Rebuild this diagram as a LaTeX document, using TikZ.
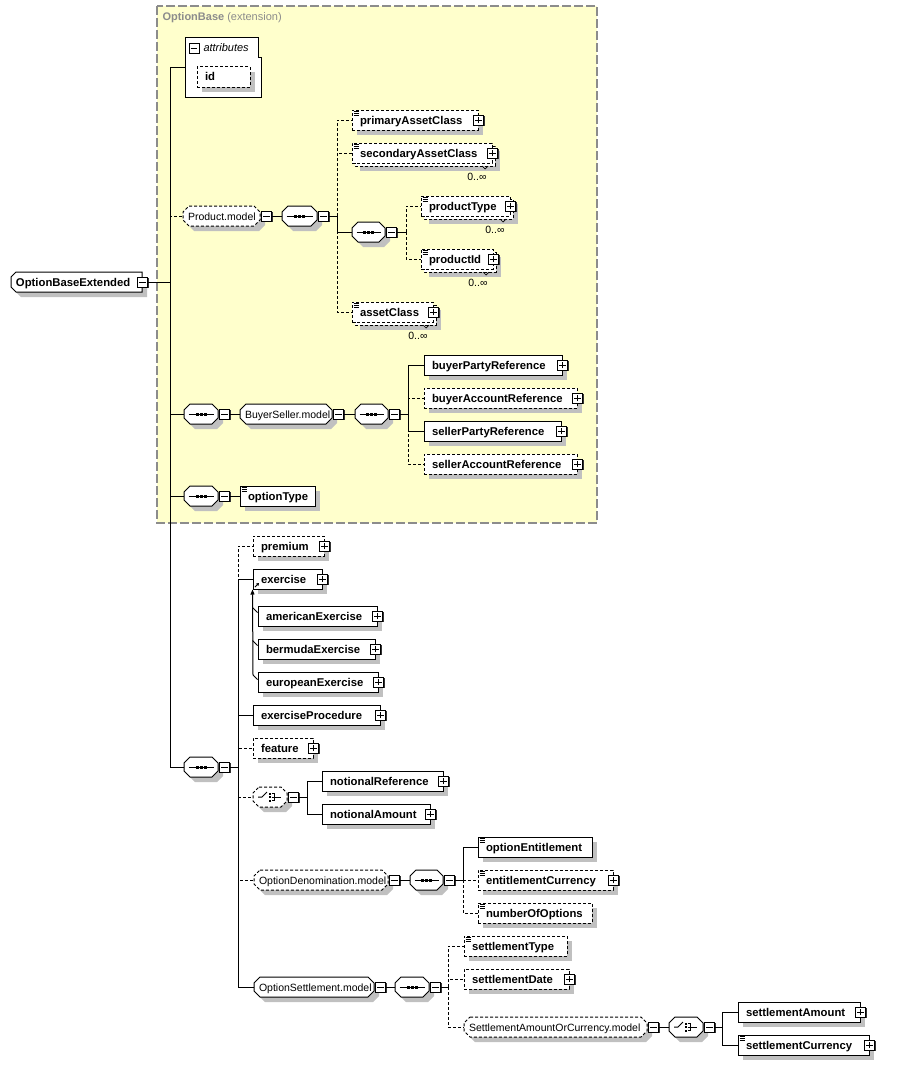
\documentclass[tikz,border=0pt]{standalone}
\usepackage{fontspec}
\setmainfont{Liberation Sans}
\usetikzlibrary{shadows,arrows.meta,calc}
\definecolor{bgy}{HTML}{FFFFCC}
\definecolor{shg}{HTML}{C0C0C0}
\definecolor{frg}{HTML}{8C8C8C}
\newcommand\elfont{\bfseries\fontsize{11.3}{13}\selectfont}
\newcommand\grfont{\fontsize{10.5}{12}\selectfont}
\tikzset{
  opt/.style={dash pattern=on 3pt off 2pt},
  elem/.style={draw, fill=white, inner xsep=8pt, inner ysep=0pt, minimum height=20pt, text height=10.5pt, text depth=2.5pt, font=\elfont},
  sh/.style={general shadow={fill=shg, shadow xshift=5pt, shadow yshift=-5pt}},
  grshape/.style={draw, fill=white, general shadow={fill=shg, shadow xshift=5pt, shadow yshift=-5pt}},
  grnode/.style={inner xsep=5pt, inner ysep=0pt, minimum height=20pt, text height=10.5pt, text depth=2.5pt, font=\grfont},
  pmbox/.style={draw, fill=white, minimum size=10pt, inner sep=0pt, line width=0.9pt, general shadow={fill=black!80, shadow xshift=1pt, shadow yshift=-1pt}},
  occ/.style={font=\fontsize{10.5}{12}\selectfont, inner sep=0pt, anchor=east},
}
\newcommand\El[6][]{%
  \pgfmathsetmacro\elw{#5-#3-16}%
  \node[elem,#1] (#2) at ({(#3+#5)/2},#4) {\makebox[\elw pt][l]{#6}};}
% optional element with several occurrences
\newcommand\ElM[5]{%
  \path[fill=shg] (#2+8,#3-2) rectangle (#4+8,#3+18);
  \path[draw, fill=white, opt] (#2+3,#3-7) rectangle (#4+3,#3+13);
  \El[opt]{#1}{#2}{#3}{#4}{#5}%
  \draw[line width=0.7pt] (#4-10,#3+13) -- (#4-7,#3+16) -- (#4-4,#3+13);
  \node[occ] (#1o) at (#4-5,#3+24) {0..∞};}
\newcommand\Grp[6][]{%
  \path[grshape,#1] (#3+6,#4-10) -- (#5-6,#4-10) -- (#5,#4-4) -- (#5,#4+4) -- (#5-6,#4+10) -- (#3+6,#4+10) -- (#3,#4+4) -- (#3,#4-4) -- cycle;
  \pgfmathsetmacro\elw{#5-#3-10}%
  \node[grnode] (#2) at ({(#3+#5)/2},#4) {\makebox[\elw pt][l]{#6}};}
\newcommand\Seq[5][]{\Grp[#1]{#2}{#3}{#4}{#5}{}%
  \draw ($(#2.west)+(5,0)$) -- ($(#2.east)+(-5,0)$);
  \foreach \dx in {-4,0,4}{\fill ($(#2.center)+(\dx-1.5,-1.5)$) rectangle ++(3,3);}}
\newcommand\Cho[5][]{\Grp[#1]{#2}{#3}{#4}{#5}{}%
  \draw ($(#2.center)+(-12,0)$) -- ++(4,0) -- ++(5,-5);
  \foreach \dy in {-3.5,0,3.5}{\fill ($(#2.center)+(-1.5,\dy-1)$) rectangle ++(2,2);}
  \draw ($(#2.center)+(1.5,-3.5)$) -- ++(3,0) -- ++(0,7) -- ++(-3,0);
  \draw ($(#2.center)+(1.5,0)$) -- ++(9.5,0);}
\newcommand\Plus[1]{%
  \node[pmbox] (#1p) at (#1.east) {};
  \draw[line width=0.9pt] ([xshift=2pt]#1p.west) -- ([xshift=-2pt]#1p.east) ([yshift=2pt]#1p.south) -- ([yshift=-2pt]#1p.north);}
\newcommand\Minus[2][6]{%
  \node[pmbox] (#2m) at ([xshift=#1pt]#2.east) {};
  \draw[line width=0.9pt] ([xshift=2pt]#2m.west) -- ([xshift=-2pt]#2m.east);}
\newcommand\Icon[1]{\foreach \dy in {1.5,3.5,5.5}{\draw[line width=0.6pt] ([shift={(2,\dy)}]#1.north west) -- ++(5,0);}}
\begin{document}
\begin{tikzpicture}[x=1pt,y=-1pt,line width=1pt]
\useasboundingbox[fill=white] (0,0) rectangle (898,1065);
% extension background
\path[fill=bgy, draw=frg, line width=1.2pt, dash pattern=on 9pt off 3pt] (157,6) rectangle (597,523);
\node[anchor=west, font=\fontsize{11}{13}\selectfont, text=frg, inner sep=0pt] (ob) at (162,18) {\textbf{OptionBase} (extension)};
% attributes
\path[draw, fill=white] (185,38) -- (258,38) -- (258,58) -- (261,58) -- (261,97) -- (185,97) -- cycle;
\node[minimum width=76pt, minimum height=59pt, inner sep=0pt] (attr) at (223,67.5) {};
\node[pmbox] (attrm) at (194,48.5) {};
\draw[line width=0.9pt] ([xshift=2pt]attrm.west) -- ([xshift=-2pt]attrm.east);
\node[anchor=west, font=\itshape\fontsize{11}{13}\selectfont, inner sep=0pt] (attrt) at (203,48) {attributes};
\El[opt,sh]{id}{197}{77}{250}{id}
% root
\path[draw, fill=white, general shadow={fill=shg, shadow xshift=5pt, shadow yshift=-5pt}] (16,272) -- (142,272) -- (142,292) -- (16,292) -- (11,287) -- (11,277) -- cycle;
\node[grnode, font=\elfont] (obe) at (76.5,282) {\makebox[121pt][l]{OptionBaseExtended}};
\Minus[0]{obe}
\coordinate (mc) at (170,282);
% Product.model
\Grp[opt]{pmod}{183}{216}{260}{Product.model}
\Minus{pmod}
\Seq{s1}{282}{216}{317}
\Minus{s1}
\coordinate (b1) at (337,216);
\El[opt,sh]{pac}{352}{120}{478}{primaryAssetClass}\Icon{pac}\Plus{pac}
\ElM{sac}{352}{153}{492}{secondaryAssetClass}\Icon{sac}\Plus{sac}
\Seq{s2}{352}{232}{385}
\Minus{s2}
\coordinate (b2) at (406,232);
\ElM{pty}{421}{206}{510}{productType}\Icon{pty}\Plus{pty}
\ElM{pid}{421}{259}{493}{productId}\Icon{pid}\Plus{pid}
\ElM{acl}{352}{312}{433}{assetClass}\Icon{acl}\Plus{acl}
% BuyerSeller
\Seq{s3}{184}{414}{218}
\Minus{s3}
\Grp{bsm}{240}{414}{332}{BuyerSeller.model}
\Minus{bsm}
\Seq{s4}{355}{414}{388}
\Minus{s4}
\coordinate (b3) at (408,414);
\El[sh]{bpr}{424}{365}{562}{buyerPartyReference}\Plus{bpr}
\El[opt,sh]{bar}{424}{398}{577}{buyerAccountReference}\Plus{bar}
\El[sh]{spr}{424}{431}{561}{sellerPartyReference}\Plus{spr}
\El[opt,sh]{sar}{424}{464}{577}{sellerAccountReference}\Plus{sar}
% optionType
\Seq{s5}{184}{496}{218}
\Minus{s5}
\El[sh]{oty}{240}{496}{315}{optionType}\Icon{oty}
% main sequence
\Seq{s6}{184}{767}{218}
\Minus{s6}
\coordinate (b4) at (238,767);
\El[opt,sh]{prem}{253}{546}{324}{premium}\Plus{prem}
\El[sh]{exer}{253}{579}{322}{exercise}\Plus{exer}
\draw[line width=1pt, -{Triangle[length=2.5pt,width=3pt]}] ($(exer.south west)+(2.5,-2.5)$) -- ++(4,-4);
\El[sh]{amer}{258}{616}{377}{americanExercise}\Plus{amer}
\El[sh]{berm}{258}{649}{375}{bermudaExercise}\Plus{berm}
\El[sh]{euro}{258}{682}{378}{europeanExercise}\Plus{euro}
\coordinate (sb) at (253,675);
\draw[-{Triangle[length=5pt,width=4pt]}] (sb) -- (exer.south west);
\draw ($(amer.north west)+(-5,2)$) -- ($(amer.north west)+(0,7)$);
\draw ($(berm.north west)+(-5,2)$) -- ($(berm.north west)+(0,7)$);
\draw (sb) -- ($(euro.north west)+(0,8)$);
\El[sh]{expr}{253}{715}{380}{exerciseProcedure}\Plus{expr}
\El[opt,sh]{feat}{253}{748}{313}{feature}\Plus{feat}
\Cho[opt]{c1}{253}{797}{287}
\Minus{c1}
\coordinate (b5) at (307,797);
\El[sh]{nref}{322}{781}{443}{notionalReference}\Plus{nref}
\El[sh]{namt}{322}{814}{430}{notionalAmount}\Plus{namt}
\Grp[opt]{odm}{254}{880}{388}{OptionDenomination.model}
\Minus{odm}
\Seq{s7}{410}{880}{443}
\Minus{s7}
\coordinate (b6) at (463,880);
\El[sh]{oent}{478}{847}{592}{optionEntitlement}\Icon{oent}
\El[opt,sh]{ecur}{478}{880}{613}{entitlementCurrency}\Icon{ecur}\Plus{ecur}
\El[opt,sh]{nopt}{478}{913}{592}{numberOfOptions}\Icon{nopt}
\Grp{osm}{254}{987}{374}{OptionSettlement.model}
\Minus{osm}
\Seq{s8}{395}{987}{429}
\Minus{s8}
\coordinate (b7) at (448,987);
\El[opt,sh]{stype}{464}{946}{567}{settlementType}\Icon{stype}
\El[opt,sh]{sdate}{464}{979}{569}{settlementDate}\Plus{sdate}
\Grp[opt]{saoc}{464}{1027}{647}{SettlementAmountOrCurrency.model}
\Minus{saoc}
\Cho{c2}{669}{1027}{703}
\Minus{c2}
\coordinate (b8) at (722,1027);
\El[sh]{samt}{738}{1012}{860}{settlementAmount}\Plus{samt}
\El[sh]{scur}{738}{1045}{869}{settlementCurrency}\Icon{scur}\Plus{scur}
% connectors
\draw (obem.east) -- (mc);
\draw (mc) |- (attr.west);
\draw (mc) |- (s6.west);
\draw[opt] (mc) |- (pmod.west);
\draw (mc) |- (s3.west);
\draw (mc) |- (s5.west);
\draw (pmodm.east) -- (s1.west);
\draw (s1m.east) -- (b1);
\draw[opt] (b1) |- (pac.west);
\draw[opt] (b1) |- (sac.west);
\draw (b1) |- (s2.west);
\draw[opt] (b1) |- (acl.west);
\draw (s2m.east) -- (b2);
\draw[opt] (b2) |- (pty.west);
\draw[opt] (b2) |- (pid.west);
\draw (s3m.east) -- (bsm.west);
\draw (bsmm.east) -- (s4.west);
\draw (s4m.east) -- (b3);
\draw (b3) |- (bpr.west);
\draw (b3) |- (spr.west);
\draw[opt] (b3) |- (bar.west);
\draw[opt] (b3) |- (sar.west);
\draw (s5m.east) -- (oty.west);
\draw (s6m.east) -- (b4);
\draw[opt] (b4) |- (prem.west);
\draw (b4) |- (exer.west);
\draw (b4) |- (expr.west);
\draw[opt] (b4) |- (feat.west);
\draw[opt] (b4) |- (c1.west);
\draw[opt] (b4) |- (odm.west);
\draw (b4) |- (osm.west);
\draw (c1m.east) -- (b5);
\draw (b5) |- (nref.west);
\draw (b5) |- (namt.west);
\draw (odmm.east) -- (s7.west);
\draw (s7m.east) -- (b6);
\draw (b6) |- (oent.west);
\draw[opt] (b6) |- (ecur.west);
\draw[opt] (b6) |- (nopt.west);
\draw (osmm.east) -- (s8.west);
\draw (s8m.east) -- (b7);
\draw[opt] (b7) |- (stype.west);
\draw[opt] (b7) |- (sdate.west);
\draw[opt] (b7) |- (saoc.west);
\draw (saocm.east) -- (c2.west);
\draw (c2m.east) -- (b8);
\draw (b8) |- (samt.west);
\draw (b8) |- (scur.west);
\end{tikzpicture}
\end{document}
